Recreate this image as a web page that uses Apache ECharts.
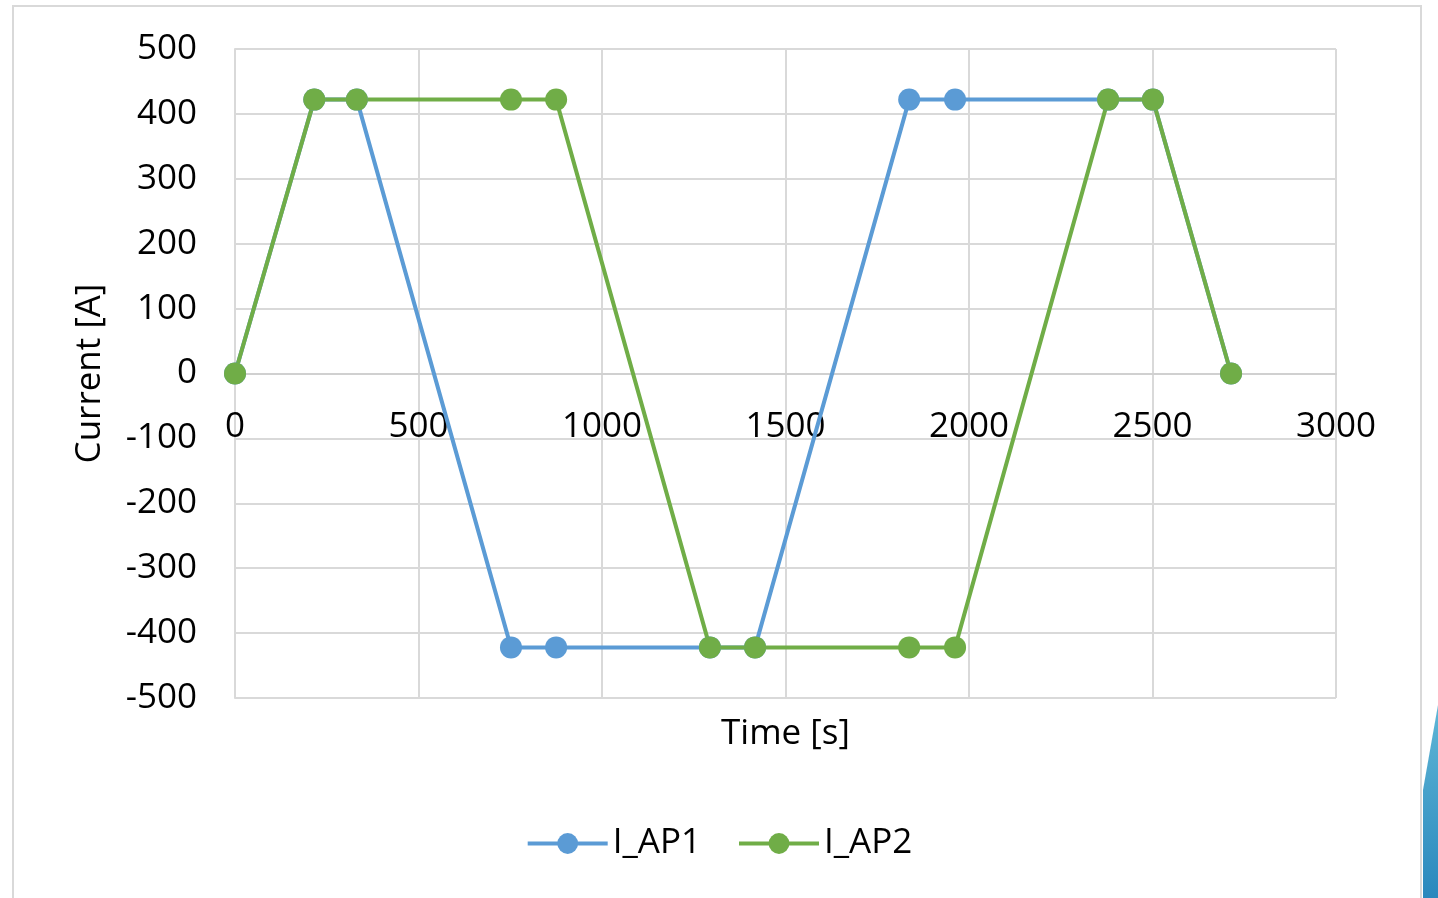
<!DOCTYPE html>
<html>
<head>
<meta charset="utf-8">
<script src="https://cdn.jsdelivr.net/npm/echarts@6/dist/echarts.min.js"></script>
<style>
  html, body { margin: 0; padding: 0; background: #ffffff; }
  #chart { width: 1438px; height: 898px; }
</style>
</head>
<body>
<div id="chart"></div>
<script>
// Time stamps [s] of the profile breakpoints
const timeS = [0, 216, 332, 752, 875, 1294, 1417, 1837, 1962, 2379, 2501, 2714];
// Current [A] for each breakpoint
const iAP1 = [0, 422, 422, -422, -422, -422, -422, 422, 422, 422, 422, 0];
const iAP2 = [0, 422, 422, 422, 422, -422, -422, -422, -422, 422, 422, 0];
const seriesNames = ['I_AP1', 'I_AP2'];
const seriesColors = ['#5B9BD5', '#70AD47'];

const pairs = (xs, ys) => xs.map((x, i) => [x, ys[i]]);

const FONT = '"Open Sans", "Liberation Sans", sans-serif';
const GRID = { left: 235, right: 102, top: 49, bottom: 200 };
const PLOT_H = 898 - GRID.top - GRID.bottom;
const chart = echarts.init(document.getElementById('chart'), null, { renderer: 'canvas' });

const lineSeries = (name, data, color) => ({
  name,
  type: 'line',
  data,
  symbol: 'circle',
  symbolSize: 22,
  showSymbol: true,
  lineStyle: { color, width: 4 },
  itemStyle: { color },
  animation: false
});

chart.setOption({
  backgroundColor: '#ffffff',
  textStyle: { fontFamily: FONT },
  graphic: [
    {
      type: 'rect',
      shape: { x: 13, y: 6, width: 1408, height: 905 },
      style: { fill: 'none', stroke: '#d9d9d9', lineWidth: 2 },
      silent: true, z: -1
    },
    {
      type: 'polygon',
      shape: { points: [[1423, 898], [1423, 790], [1438, 705], [1438, 898]] },
      style: {
        fill: new echarts.graphic.LinearGradient(0, 0, 0, 1, [
          { offset: 0, color: '#5fb6d6' },
          { offset: 1, color: '#2a88bd' }
        ])
      },
      silent: true
    }
  ],
  grid: Object.assign({ containLabel: false, outerBoundsMode: 'none' }, GRID),
  legend: {
    data: seriesNames,
    bottom: 32,
    left: 'center',
    itemWidth: 80,
    itemHeight: 26,
    itemGap: 36,
    lineStyle: { width: 4 },
    textStyle: { fontFamily: FONT, fontSize: 35, color: '#000000' }
  },
  xAxis: {
    type: 'value',
    min: 0, max: 3000, interval: 500,
    // time axis drawn along the zero-current line
    position: 'bottom',
    offset: -PLOT_H / 2,
    name: 'Time [s]',
    nameLocation: 'middle',
    nameGap: 343,
    nameTextStyle: { fontFamily: FONT, fontSize: 35, color: '#000000' },
    axisLine: { onZero: false, lineStyle: { color: '#d0d0d0', width: 2 } },
    axisTick: { show: false },
    axisLabel: { fontFamily: FONT, fontSize: 35, color: '#000000', margin: 36, formatter: v => String(v) },
    splitLine: { show: true, lineStyle: { color: '#d9d9d9', width: 2 } }
  },
  yAxis: {
    type: 'value',
    min: -500, max: 500, interval: 100,
    name: 'Current [A]',
    nameLocation: 'middle',
    nameGap: 127,
    nameTextStyle: { fontFamily: FONT, fontSize: 35, color: '#000000' },
    axisLine: { show: true, onZero: false, lineStyle: { color: '#d9d9d9', width: 2 } },
    axisTick: { show: false },
    axisLabel: { fontFamily: FONT, fontSize: 35, color: '#000000', margin: 38, formatter: v => String(v) },
    splitLine: { show: true, lineStyle: { color: '#d9d9d9', width: 2 } }
  },
  series: [
    lineSeries(seriesNames[0], pairs(timeS, iAP1), seriesColors[0]),
    lineSeries(seriesNames[1], pairs(timeS, iAP2), seriesColors[1])
  ]
});
</script>
</body>
</html>
